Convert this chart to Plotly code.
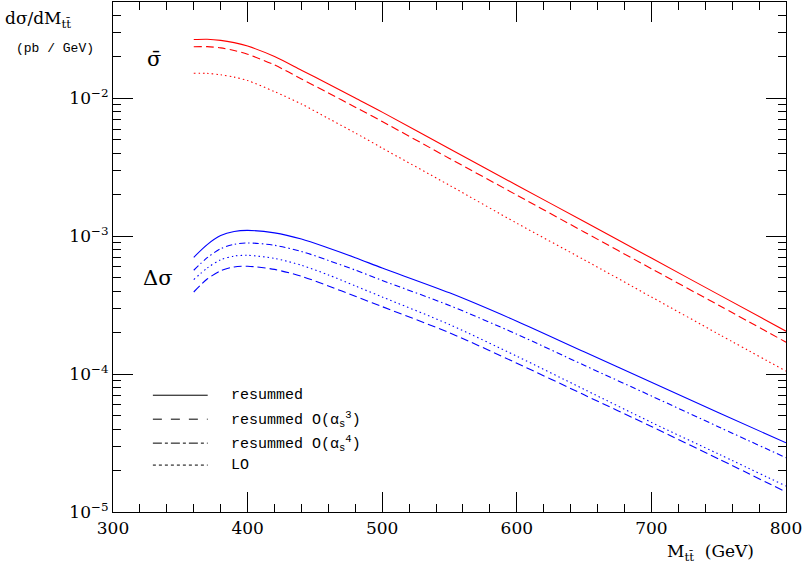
import plotly.graph_objects as go

# ---------------- data ----------------
mass = [360, 370, 380, 390, 400, 420, 440, 460, 480, 500, 550, 600, 650, 700, 750, 800]

# sigma-bar (unpolarised), red
sig_resummed = [0.02679, 0.02692, 0.02642, 0.02541, 0.02399, 0.02014, 0.01603, 0.01274, 0.01007,
                0.007962, 0.004315, 0.002350, 0.001279, 0.000695, 0.0003776, 0.0002051]
sig_as3 = [0.02371, 0.02377, 0.02328, 0.02228, 0.02094, 0.01750, 0.01387, 0.01096, 0.008650,
           0.006808, 0.003673, 0.001991, 0.001076, 0.0005821, 0.0003162, 0.0001706]
sig_lo = [0.01524, 0.01521, 0.01486, 0.01429, 0.01349, 0.01122, 0.009120, 0.007161, 0.005623,
          0.004365, 0.002344, 0.001245, 0.0006761, 0.0003631, 0.0001950, 0.0001052]

# delta-sigma (polarised), blue
dsig_resummed = [7.047e-4, 8.710e-4, 1.012e-3, 1.084e-3, 1.104e-3, 1.059e-3, 9.550e-4, 8.222e-4,
                 6.998e-4, 5.888e-4, 3.890e-4, 2.421e-4, 1.452e-4, 8.750e-5, 5.248e-5, 3.177e-5]
dsig_as3 = [3.945e-4, 4.898e-4, 5.623e-4, 5.998e-4, 6.067e-4, 5.754e-4, 5.129e-4, 4.365e-4,
            3.673e-4, 3.090e-4, 1.995e-4, 1.202e-4, 7.079e-5, 4.169e-5, 2.427e-5, 1.396e-5]
dsig_as4 = [5.675e-4, 6.998e-4, 8.128e-4, 8.750e-4, 8.954e-4, 8.610e-4, 7.762e-4, 6.683e-4,
            5.689e-4, 4.786e-4, 3.148e-4, 1.950e-4, 1.161e-4, 6.950e-5, 4.140e-5, 2.477e-5]
dsig_lo = [4.853e-4, 5.888e-4, 6.761e-4, 7.194e-4, 7.278e-4, 6.918e-4, 6.166e-4, 5.248e-4,
           4.365e-4, 3.631e-4, 2.291e-4, 1.349e-4, 7.762e-5, 4.467e-5, 2.630e-5, 1.542e-5]

x_tickvals = [300, 400, 500, 600, 700, 800]
y_tickvals = [1e-5, 1e-4, 1e-3, 1e-2]
y_ticktext = ["10<sup>\u22125</sup>", "10<sup>\u22124</sup>", "10<sup>\u22123</sup>", "10<sup>\u22122</sup>"]

legend_labels = ["resummed", "resummed O(\u03b1<sub>s</sub><sup>3</sup>)",
                 "resummed O(\u03b1<sub>s</sub><sup>4</sup>)", "LO"]

# ---------------- styles ----------------
RED = "#ff0000"
BLUE = "#0000ff"
DASH = "8px,4px"
DOT = "1.5px,3px"
DASHDOT = "6px,3px,1.5px,3px"
LW = 1.1

fig = go.Figure()

def add(y, color, dash):
    fig.add_trace(go.Scatter(x=mass, y=y, mode="lines",
                             line=dict(color=color, width=LW, dash=dash, shape="spline", smoothing=0.8),
                             showlegend=False, hoverinfo="skip"))

add(sig_resummed, RED, "solid")
add(sig_as3, RED, DASH)
add(sig_lo, RED, DOT)
add(dsig_resummed, BLUE, "solid")
add(dsig_as4, BLUE, DASHDOT)
add(dsig_lo, BLUE, DOT)
add(dsig_as3, BLUE, DASH)

SERIF = "DejaVu Serif"
MONO = "Liberation Mono"

fig.update_layout(
    width=803, height=572,
    margin=dict(l=113, r=15, t=1, b=60),
    paper_bgcolor="white", plot_bgcolor="white",
    font=dict(family=SERIF, size=17, color="black"),
    hovermode=False,
)

fig.update_xaxes(
    range=[300, 800], tickvals=x_tickvals, ticks="inside", ticklen=20, tickwidth=1,
    tickcolor="black", showline=True, linecolor="black", linewidth=1.2, mirror="allticks",
    showgrid=False, zeroline=False, tickfont=dict(family=SERIF, size=17),
    ticklabeloverflow="allow",
    minor=dict(dtick=20, ticks="inside", ticklen=8, tickcolor="black", showgrid=False),
)
fig.update_yaxes(
    type="log", range=[-5, -1.30], tickvals=y_tickvals, ticktext=y_ticktext,
    ticks="inside", ticklen=20, tickwidth=1, tickcolor="black",
    showline=True, linecolor="black", linewidth=1.2, mirror="allticks",
    showgrid=False, zeroline=False, tickfont=dict(family=SERIF, size=17),
    ticklabeloverflow="allow",
    minor=dict(dtick="D1", ticks="inside", ticklen=8, tickcolor="black", showgrid=False),
)

PW, PH = 675, 511

# axis titles as annotations
fig.add_annotation(xref="paper", yref="paper", x=-110 / PW, y=1 - 18 / PH, xanchor="left", yanchor="middle",
                   text="d\u03c3/dM<sub>tt\u0304</sub>", showarrow=False, font=dict(family=SERIF, size=17))
fig.add_annotation(xref="paper", yref="paper", x=-99 / PW, y=1 - 47 / PH, xanchor="left", yanchor="middle",
                   text="(pb / GeV)", showarrow=False, font=dict(family=MONO, size=13))
fig.add_annotation(xref="paper", yref="paper", x=(712 - 113) / PW, y=-(553 - 512) / PH,
                   xanchor="center", yanchor="middle",
                   text="M<sub>tt\u0304</sub>  (GeV)", showarrow=False, font=dict(family=SERIF, size=17))

# curve group labels
fig.add_annotation(xref="paper", yref="paper", x=(154 - 113) / PW, y=1 - 57 / PH,
                   xanchor="center", yanchor="middle",
                   text="\u03c3\u0304", showarrow=False, font=dict(family=SERIF, size=21))
fig.add_annotation(xref="paper", yref="paper", x=(158 - 113) / PW, y=1 - 277 / PH,
                   xanchor="center", yanchor="middle",
                   text="\u0394\u03c3", showarrow=False, font=dict(family=SERIF, size=21))

# legend (drawn manually)
rows_px = [395, 419, 443, 465]
dashes = ["solid", "dash", "dashdot", "dot"]
for ypx, d, lab in zip(rows_px, dashes, legend_labels):
    yp = 1 - (ypx - 1) / PH
    fig.add_shape(type="line", xref="paper", yref="paper",
                  x0=(153 - 113) / PW, x1=(208 - 113) / PW, y0=yp, y1=yp,
                  line=dict(color="black", width=1, dash=d))
    fig.add_annotation(xref="paper", yref="paper", x=(229 - 113) / PW, y=yp,
                       xanchor="left", yanchor="middle", text=lab, showarrow=False,
                       font=dict(family=MONO, size=15))

fig.write_html("out.html", config={"displayModeBar": False, "staticPlot": False},
               post_script="document.body.style.margin='0px';document.body.style.overflow='hidden';")
